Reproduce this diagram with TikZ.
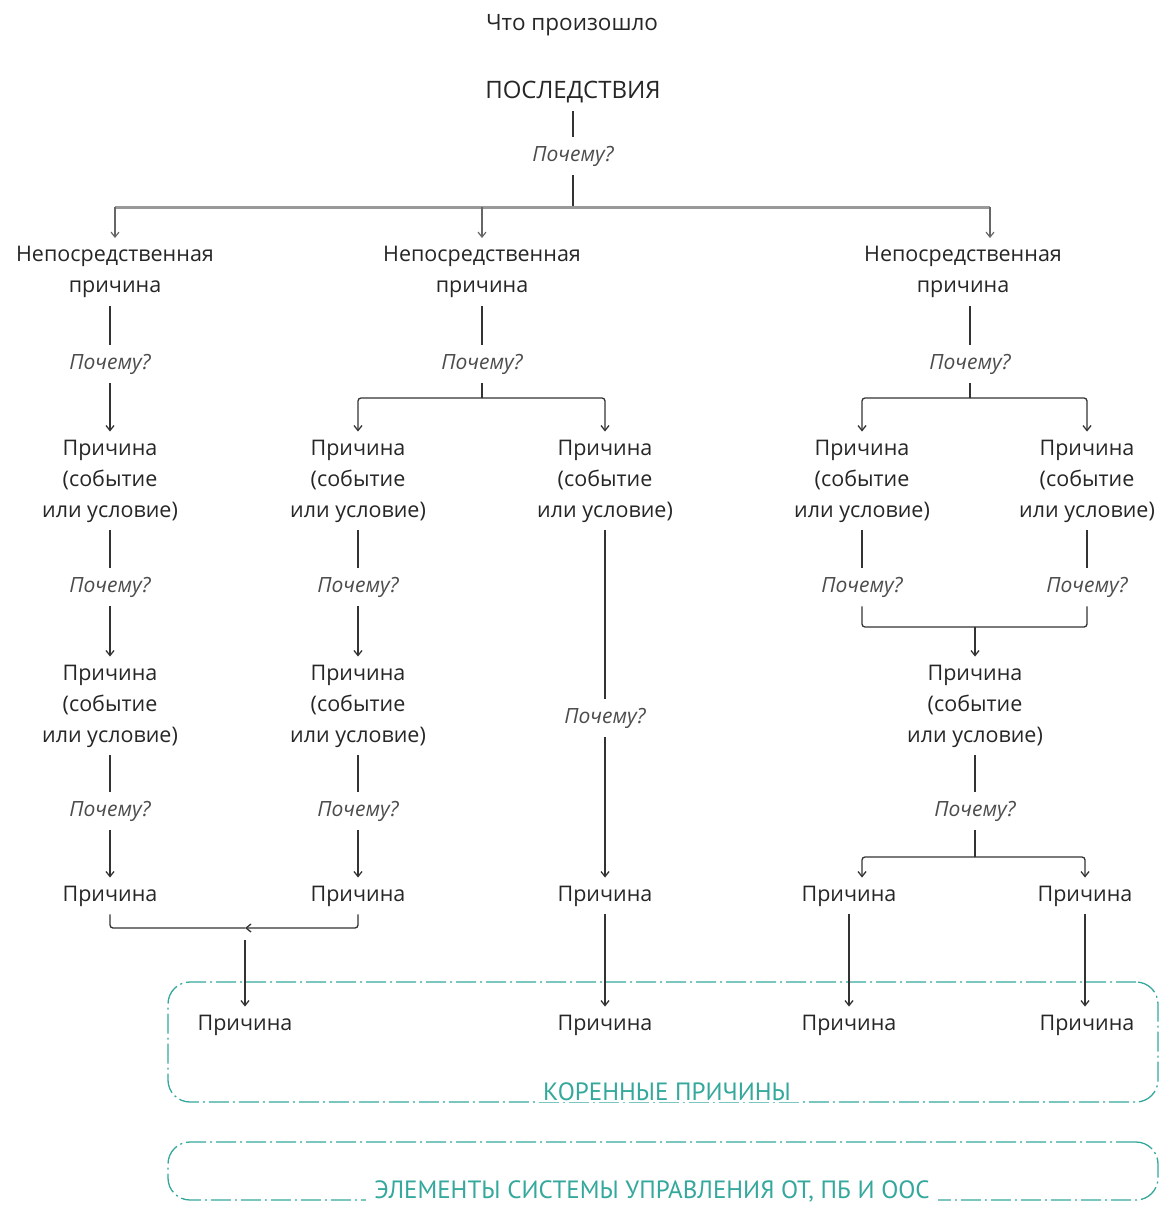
\documentclass[tikz,border=0pt]{standalone}
\usepackage{fontspec}
\setmainfont{Open Sans}
\newfontfamily\condfont{PT Sans}
\usetikzlibrary{arrows.meta}
\definecolor{tealc}{RGB}{52,168,156}
\begin{document}
\begin{tikzpicture}[x=1pt,y=-1pt,
  txt/.style={font=\fontsize{21.5}{31}\selectfont, align=center, text=black!85, inner sep=8pt},
  why/.style={font=\fontsize{21}{24}\selectfont\itshape, text=black!70, inner sep=9pt},
  ln/.style={draw=black!80, line width=1.3pt},
  arr/.style={ln, -{Straight Barb[length=5pt,width=8pt]}},
  gbar/.style={draw=black!40, line width=3pt},
  garr/.style={draw=black!60, line width=1.2pt, -{Straight Barb[length=5pt,width=8pt]}},
  rootbox/.style={draw=tealc, line width=1.3pt, dash pattern=on 20pt off 4pt on 2pt off 4pt, rounded corners=22pt},
  rootlbl/.style={font=\condfont\fontsize{25}{28}\selectfont, text=tealc, fill=white, inner xsep=8pt, inner ysep=1pt}]
\path[use as bounding box] (0,0) rectangle (1160,1207);

% top
\node[txt, font=\fontsize{22.5}{26}\selectfont] (t0) at (572,25) {Что произошло};
\node[txt, font=\fontsize{24}{28}\selectfont] (t1) at (573,92) {ПОСЛЕДСТВИЯ};
\node[why] (w0) at (573,156) {Почему?};
\coordinate (c0) at (573,207);
\coordinate (c0L) at (115,207);
\coordinate (c0R) at (990,207);
\draw[ln] (t1) -- (w0);
\draw[ln] (w0) -- (c0);

\node[txt] (n1) at (115,272) {Непосредственная\\причина};
\node[txt] (n2) at (482,272) {Непосредственная\\причина};
\node[txt] (n3) at (963,272) {Непосредственная\\причина};
\draw[gbar] (c0L) -- (c0R);
\draw[garr] (c0L) -- (n1);
\draw[garr] (c0 -| n2) -- (n2);
\draw[garr] (c0R) -- (c0R |- n3.north);

% column 1
\node[why] (w1) at (110,364) {Почему?};
\node[txt] (a1) at (110,481) {Причина\\(событие\\или условие)};
\node[why] (w2) at (110,587) {Почему?};
\node[txt] (a2) at (110,706) {Причина\\(событие\\или условие)};
\node[why] (w3) at (110,811) {Почему?};
\node[txt] (p1) at (110,896) {Причина};
\draw[ln] (n1.south -| w1) -- (w1);
\draw[arr] (w1) -- (a1);
\draw[ln] (a1) -- (w2);
\draw[arr] (w2) -- (a2);
\draw[ln] (a2) -- (w3);
\draw[arr] (w3) -- (p1);

% column 2
\node[why] (w4) at (482,364) {Почему?};
\coordinate (b2) at (482,398);
\node[txt] (b1) at (358,481) {Причина\\(событие\\или условие)};
\node[why] (w5) at (358,587) {Почему?};
\node[txt] (b3) at (358,706) {Причина\\(событие\\или условие)};
\node[why] (w6) at (358,811) {Почему?};
\node[txt] (p2) at (358,896) {Причина};
\node[txt] (d1) at (605,481) {Причина\\(событие\\или условие)};
\node[why] (w7) at (605,718) {Почему?};
\node[txt] (p3) at (605,896) {Причина};
\draw[ln] (n2) -- (w4);
\draw[ln] (w4) -- (b2);
\draw[arr, rounded corners=3pt] (b2) -| (b1);
\draw[arr, rounded corners=3pt] (b2) -| (d1);
\draw[ln] (b1) -- (w5);
\draw[arr] (w5) -- (b3);
\draw[ln] (b3) -- (w6);
\draw[arr] (w6) -- (p2);
\draw[ln] (d1) -- (w7);
\draw[arr] (w7) -- (p3);

% column 3
\node[why] (w8) at (970,364) {Почему?};
\coordinate (b4) at (970,398);
\node[txt] (e1) at (862,481) {Причина\\(событие\\или условие)};
\node[why] (w9) at (862,587) {Почему?};
\node[txt] (f1) at (1087,481) {Причина\\(событие\\или условие)};
\node[why] (w10) at (1087,587) {Почему?};
\coordinate (j3) at (975,627);
\node[txt] (g1) at (975,706) {Причина\\(событие\\или условие)};
\node[why] (w11) at (975,811) {Почему?};
\coordinate (j4) at (975,857);
\coordinate (j4L) at (862,857);
\node[txt] (p4) at (849,896) {Причина};
\node[txt] (p5) at (1085,896) {Причина};
\draw[ln] (n3.south -| w8) -- (w8);
\draw[ln] (w8) -- (b4);
\draw[arr, rounded corners=3pt] (b4) -| (e1);
\draw[arr, rounded corners=3pt] (b4) -| (f1);
\draw[ln] (e1) -- (w9);
\draw[ln] (f1) -- (w10);
\draw[ln, rounded corners=3pt] (w9) |- (j3);
\draw[ln, rounded corners=3pt] (w10) |- (j3);
\draw[arr] (j3) -- (g1);
\draw[ln] (g1) -- (w11);
\draw[ln] (w11) -- (j4);
\draw[arr, rounded corners=3pt] (j4) -- (j4L) -- (j4L |- p4.north);
\draw[arr, rounded corners=3pt] (j4) -| (p5);

% root causes
\node[rootbox, minimum width=990, minimum height=120] (box1) at (663,1042) {};
\node[rootbox, minimum width=990, minimum height=58] (box2) at (663,1171) {};
\node[txt] (r1) at (245,1025) {Причина};
\node[txt] (r2) at (605,1025) {Причина};
\node[txt] (r3) at (849,1025) {Причина};
\node[txt] (r4) at (1087,1025) {Причина};
\coordinate (j1) at (245,928);
\coordinate (j1b) at (245,940);
\draw[ln, rounded corners=3pt] (p1) |- (j1);
\draw[arr, rounded corners=3pt] (p2) |- (j1);
\draw[arr] (j1b) -- (r1);
\draw[arr] (p3) -- (r2);
\draw[arr] (p4) -- (r3);
\draw[arr] (p5) -- (p5 |- r4.north);
\node[rootlbl] (k1) at (667,1092) {КОРЕННЫЕ ПРИЧИНЫ};
\node[rootlbl] (k2) at (652,1191) {ЭЛЕМЕНТЫ СИСТЕМЫ УПРАВЛЕНИЯ ОТ, ПБ И ООС};
\end{tikzpicture}
\end{document}
